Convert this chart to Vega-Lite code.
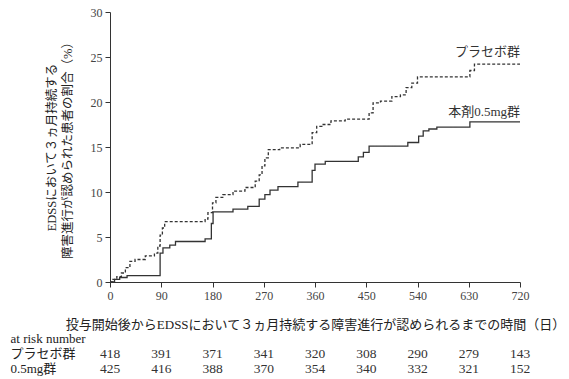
{
  "$schema": "https://vega.github.io/schema/vega-lite/v6.json",
  "padding": {"left": 10, "top": 6, "right": 2, "bottom": 0},
  "background": "white",
  "spacing": 0,
  "config": {
    "view": {"stroke": null},
    "font": "Liberation Serif, Noto Sans CJK JP",
    "axis": {"grid": false, "labelFlush": false, "domainColor": "#333", "tickColor": "#333", "labelColor": "#444", "titleColor": "#222", "labelFont": "Liberation Serif", "labelFontSize": 12, "titleFont": "Liberation Serif, Noto Sans CJK JP", "titleFontSize": 13, "titleFontWeight": "normal"}
  },
  "datasets": {
    "curves": [
      {"g": "本剤0.5mg群", "day": 0, "pct": 0},
      {"g": "本剤0.5mg群", "day": 8, "pct": 0.3},
      {"g": "本剤0.5mg群", "day": 17, "pct": 0.5},
      {"g": "本剤0.5mg群", "day": 30, "pct": 0.7},
      {"g": "本剤0.5mg群", "day": 88, "pct": 3.2},
      {"g": "本剤0.5mg群", "day": 93, "pct": 3.8},
      {"g": "本剤0.5mg群", "day": 105, "pct": 4.1},
      {"g": "本剤0.5mg群", "day": 115, "pct": 4.5},
      {"g": "本剤0.5mg群", "day": 167, "pct": 4.8},
      {"g": "本剤0.5mg群", "day": 178, "pct": 6.5},
      {"g": "本剤0.5mg群", "day": 181, "pct": 7.8},
      {"g": "本剤0.5mg群", "day": 216, "pct": 8.1},
      {"g": "本剤0.5mg群", "day": 242, "pct": 8.4},
      {"g": "本剤0.5mg群", "day": 262, "pct": 9.2},
      {"g": "本剤0.5mg群", "day": 272, "pct": 9.7},
      {"g": "本剤0.5mg群", "day": 281, "pct": 10.2},
      {"g": "本剤0.5mg群", "day": 295, "pct": 10.6},
      {"g": "本剤0.5mg群", "day": 330, "pct": 11.1},
      {"g": "本剤0.5mg群", "day": 355, "pct": 12.4},
      {"g": "本剤0.5mg群", "day": 360, "pct": 13.1},
      {"g": "本剤0.5mg群", "day": 378, "pct": 13.4},
      {"g": "本剤0.5mg群", "day": 436, "pct": 13.9},
      {"g": "本剤0.5mg群", "day": 445, "pct": 14.4},
      {"g": "本剤0.5mg群", "day": 455, "pct": 15.1},
      {"g": "本剤0.5mg群", "day": 523, "pct": 15.5},
      {"g": "本剤0.5mg群", "day": 542, "pct": 16.2},
      {"g": "本剤0.5mg群", "day": 550, "pct": 16.8},
      {"g": "本剤0.5mg群", "day": 560, "pct": 17.0},
      {"g": "本剤0.5mg群", "day": 574, "pct": 17.2},
      {"g": "本剤0.5mg群", "day": 632, "pct": 17.8},
      {"g": "本剤0.5mg群", "day": 720, "pct": 17.8},
      {"g": "プラセボ群", "day": 0, "pct": 0},
      {"g": "プラセボ群", "day": 5, "pct": 0.3},
      {"g": "プラセボ群", "day": 12, "pct": 0.6},
      {"g": "プラセボ群", "day": 20, "pct": 1.0},
      {"g": "プラセボ群", "day": 27, "pct": 1.6},
      {"g": "プラセボ群", "day": 35, "pct": 2.3},
      {"g": "プラセボ群", "day": 44, "pct": 2.5},
      {"g": "プラセボ群", "day": 62, "pct": 2.9},
      {"g": "プラセボ群", "day": 78, "pct": 3.2},
      {"g": "プラセボ群", "day": 84, "pct": 4.0},
      {"g": "プラセボ群", "day": 88, "pct": 5.2},
      {"g": "プラセボ群", "day": 92, "pct": 6.0},
      {"g": "プラセボ群", "day": 96, "pct": 6.7},
      {"g": "プラセボ群", "day": 167, "pct": 7.0},
      {"g": "プラセボ群", "day": 172, "pct": 7.7},
      {"g": "プラセボ群", "day": 180, "pct": 8.8},
      {"g": "プラセボ群", "day": 186, "pct": 9.4},
      {"g": "プラセボ群", "day": 198, "pct": 9.7},
      {"g": "プラセボ群", "day": 216, "pct": 10.1},
      {"g": "プラセボ群", "day": 237, "pct": 10.5},
      {"g": "プラセボ群", "day": 255, "pct": 11.2},
      {"g": "プラセボ群", "day": 262, "pct": 11.9},
      {"g": "プラセボ群", "day": 267, "pct": 12.9},
      {"g": "プラセボ群", "day": 272, "pct": 13.8},
      {"g": "プラセボ群", "day": 278, "pct": 14.7},
      {"g": "プラセボ群", "day": 298, "pct": 14.9},
      {"g": "プラセボ群", "day": 334, "pct": 15.3},
      {"g": "プラセボ群", "day": 355, "pct": 16.6},
      {"g": "プラセボ群", "day": 363, "pct": 17.3},
      {"g": "プラセボ群", "day": 372, "pct": 17.5},
      {"g": "プラセボ群", "day": 388, "pct": 17.9},
      {"g": "プラセボ群", "day": 413, "pct": 18.1},
      {"g": "プラセボ群", "day": 455, "pct": 18.8},
      {"g": "プラセボ群", "day": 462, "pct": 19.9},
      {"g": "プラセボ群", "day": 475, "pct": 20.1},
      {"g": "プラセボ群", "day": 495, "pct": 20.6},
      {"g": "プラセボ群", "day": 510, "pct": 20.8},
      {"g": "プラセボ群", "day": 520, "pct": 21.6},
      {"g": "プラセボ群", "day": 530, "pct": 22.1},
      {"g": "プラセボ群", "day": 540, "pct": 22.8},
      {"g": "プラセボ群", "day": 632, "pct": 23.5},
      {"g": "プラセボ群", "day": 640, "pct": 24.2},
      {"g": "プラセボ群", "day": 720, "pct": 24.2}
    ],
    "labels": [
      {"label": "プラセボ群", "day": 720, "pct": 25.6},
      {"label": "本剤0.5mg群", "day": 720, "pct": 18.9}
    ],
    "risk": [
      {"row": "プラセボ群", "day": 0, "n": 418},
      {"row": "プラセボ群", "day": 90, "n": 391},
      {"row": "プラセボ群", "day": 180, "n": 371},
      {"row": "プラセボ群", "day": 270, "n": 341},
      {"row": "プラセボ群", "day": 360, "n": 320},
      {"row": "プラセボ群", "day": 450, "n": 308},
      {"row": "プラセボ群", "day": 540, "n": 290},
      {"row": "プラセボ群", "day": 630, "n": 279},
      {"row": "プラセボ群", "day": 720, "n": 143},
      {"row": "0.5mg群", "day": 0, "n": 425},
      {"row": "0.5mg群", "day": 90, "n": 416},
      {"row": "0.5mg群", "day": 180, "n": 388},
      {"row": "0.5mg群", "day": 270, "n": 370},
      {"row": "0.5mg群", "day": 360, "n": 354},
      {"row": "0.5mg群", "day": 450, "n": 340},
      {"row": "0.5mg群", "day": 540, "n": 332},
      {"row": "0.5mg群", "day": 630, "n": 321},
      {"row": "0.5mg群", "day": 720, "n": 152}
    ]
  },
  "vconcat": [
    {
      "width": 410,
      "height": 270,
      "layer": [
        {
          "data": {"name": "curves"},
          "mark": {"type": "line", "interpolate": "step-after", "strokeWidth": 1.3, "color": "#333"},
          "encoding": {
            "x": {"field": "day", "type": "quantitative", "scale": {"domain": [0, 720], "nice": false},
              "axis": {"values": [0, 90, 180, 270, 360, 450, 540, 630, 720], "title": "投与開始後からEDSSにおいて３ヵ月持続する障害進行が認められるまでの時間（日）", "tickSize": 5, "labelPadding": 3, "titlePadding": 17}},
            "y": {"field": "pct", "type": "quantitative", "scale": {"domain": [0, 30], "nice": false},
              "axis": {"values": [0, 5, 10, 15, 20, 25, 30], "title": ["EDSSにおいて３ヵ月持続する", "障害進行が認められた患者の割合（%）"], "tickSize": 5, "labelPadding": 3, "titlePadding": 16, "titleFontSize": 12.5, "titleLineHeight": 16}},
            "strokeDash": {"field": "g", "type": "nominal", "scale": {"domain": ["プラセボ群", "本剤0.5mg群"], "range": [[3, 2], [1, 0]]}, "legend": null}
          }
        },
        {
          "data": {"name": "labels"},
          "mark": {"type": "text", "align": "right", "baseline": "middle", "fontSize": 13, "color": "#333", "font": "Liberation Serif, Noto Sans CJK JP"},
          "encoding": {
            "x": {"field": "day", "type": "quantitative"},
            "y": {"field": "pct", "type": "quantitative"},
            "text": {"field": "label"}
          }
        }
      ]
    },
    {
      "width": 410,
      "height": 45,
      "data": {"name": "risk"},
      "mark": {"type": "text", "align": "center", "baseline": "middle", "fontSize": 13.5, "color": "#333", "font": "Liberation Serif"},
      "encoding": {
        "x": {"field": "day", "type": "quantitative", "scale": {"domain": [0, 720], "nice": false}, "axis": null},
        "y": {"field": "row", "type": "nominal", "scale": {"domain": ["at risk number", "プラセボ群", "0.5mg群"], "paddingInner": 0, "paddingOuter": 0},
          "axis": {"title": null, "domain": false, "ticks": false, "tickSize": 0, "labelAlign": "left", "labelPadding": 100, "labelFontSize": 13, "labelColor": "#222", "labelFont": "Liberation Serif, Noto Sans CJK JP"}},
        "text": {"field": "n", "type": "quantitative"}
      }
    }
  ]
}
